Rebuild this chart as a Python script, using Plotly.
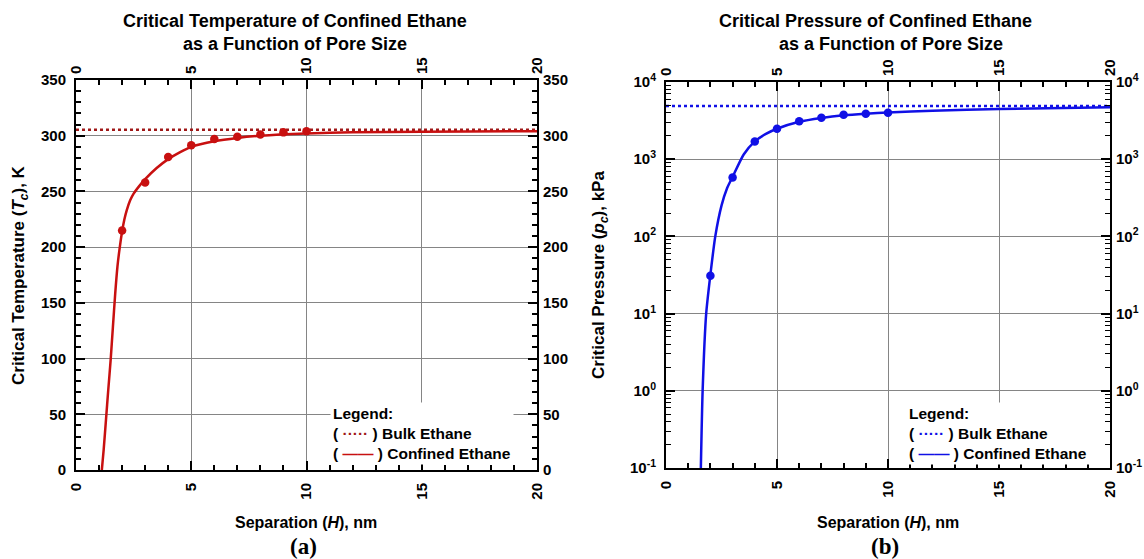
import plotly.graph_objects as go

W, H = 1144, 559

# ---------------- data ----------------
sep_points = [2, 3, 4, 5, 6, 7, 8, 9, 10]
tc_points = [215, 258, 281, 291.5, 297, 299, 301, 303, 304]
pc_points = [31, 580, 1700, 2480, 3110, 3440, 3760, 3870, 3990]

sep_fit_t = [1.12, 1.2, 1.3, 1.4, 1.5, 1.6, 1.7, 1.8, 1.9, 2.0, 2.1, 2.2, 2.35, 2.5, 2.75,
             3.0, 3.5, 4.0, 4.5, 5.0, 6.0, 7.0, 8.0, 10.0, 12.0, 15.0, 20.0]
tc_fit = [0, 18, 45, 72, 98, 128, 158, 183, 200, 214, 225, 233, 242, 248, 255,
          261, 271, 279, 285, 290, 295, 298, 300, 302, 303, 303.6, 304]

sep_fit_p = [1.57, 1.65, 1.81, 2.0, 2.22, 2.5, 2.75, 3.0, 3.5, 4.0, 4.5, 5.0, 6.0, 7.0,
             8.0, 9.0, 10.0, 12.0, 15.0, 20.0]
pc_fit = [0.1, 1, 10, 32, 100, 250, 420, 590, 1150, 1700, 2130, 2480, 3050, 3420,
          3700, 3880, 4020, 4250, 4480, 4700]

sep_bulk = [0, 20]
tc_bulk = [305.3, 305.3]
pc_bulk = [4872, 4872]

log_tickvals = [0.1, 1, 10, 100, 1000, 10000]
log_ticktext = ["10<sup>-1</sup>", "10<sup>0</sup>", "10<sup>1</sup>",
                "10<sup>2</sup>", "10<sup>3</sup>", "10<sup>4</sup>"]

RED = "#c81010"
DRED = "#a01818"
BLUE = "#1010e6"
FONT = "Liberation Sans"


def px_x(p):
    return p / W


def px_y(p):
    return 1 - p / H


fig = go.Figure()

# left panel
fig.add_trace(go.Scatter(x=sep_bulk, y=tc_bulk, mode="lines", xaxis="x", yaxis="y",
                         line=dict(color=DRED, width=2.5, dash="3px,3px"), hoverinfo="skip"))
fig.add_trace(go.Scatter(x=sep_fit_t, y=tc_fit, mode="lines", xaxis="x", yaxis="y",
                         line=dict(color=RED, width=2.5, shape="spline", smoothing=0.6)))
fig.add_trace(go.Scatter(x=sep_points, y=tc_points, mode="markers", xaxis="x", yaxis="y",
                         marker=dict(color=RED, size=8.5)))
fig.add_trace(go.Scatter(x=sep_points, y=tc_points, mode="markers", xaxis="x3", yaxis="y3",
                         marker=dict(opacity=0), hoverinfo="skip"))

# right panel
fig.add_trace(go.Scatter(x=sep_bulk, y=pc_bulk, mode="lines", xaxis="x2", yaxis="y2",
                         line=dict(color=BLUE, width=2.5, dash="3px,3px"), hoverinfo="skip"))
fig.add_trace(go.Scatter(x=sep_fit_p, y=pc_fit, mode="lines", xaxis="x2", yaxis="y2",
                         line=dict(color=BLUE, width=2.5, shape="spline", smoothing=0.6)))
fig.add_trace(go.Scatter(x=sep_points, y=pc_points, mode="markers", xaxis="x2", yaxis="y2",
                         marker=dict(color=BLUE, size=8.5)))
fig.add_trace(go.Scatter(x=sep_points, y=pc_points, mode="markers", xaxis="x4", yaxis="y4",
                         marker=dict(opacity=0), hoverinfo="skip"))

tickfont = dict(family=FONT, size=15, color="black", weight="bold")
GRID = "#858585"

xcommon = dict(range=[0, 20], tick0=0, dtick=5, ticks="inside", ticklen=9, tickwidth=1.5,
               tickcolor="black", tickangle=-90, tickfont=tickfont, zeroline=False,
               automargin=False, ticklabelstandoff=5,
               minor=dict(dtick=1, ticks="inside", ticklen=5, tickwidth=1.5, tickcolor="black",
                          showgrid=False),
               fixedrange=True)

LX = [px_x(76), px_x(537)]
RX = [px_x(666), px_x(1110)]
LY = [px_y(470), px_y(80)]
RY = [px_y(468), px_y(82)]

fig.update_layout(
    xaxis=dict(**xcommon, domain=LX, anchor="y", showgrid=True, gridcolor=GRID, gridwidth=1,
               showline=True, linewidth=2, linecolor="black", mirror=True),
    xaxis3=dict(**xcommon, overlaying="x", side="top", anchor="y", showgrid=False, showline=False),
    xaxis2=dict(**xcommon, domain=RX, anchor="y2", showgrid=True, gridcolor=GRID, gridwidth=1,
                showline=True, linewidth=2, linecolor="black", mirror=True),
    xaxis4=dict(**xcommon, overlaying="x2", side="top", anchor="y2", showgrid=False, showline=False),
)

ycommon_t = dict(range=[0, 350], tick0=0, dtick=50, ticks="inside", ticklen=9, tickwidth=1.5,
                 tickcolor="black", tickfont=tickfont, zeroline=False, automargin=False,
                 ticklabelstandoff=5,
                 minor=dict(dtick=10, ticks="inside", ticklen=5, tickwidth=1.5, tickcolor="black",
                            showgrid=False),
                 fixedrange=True)
ycommon_p = dict(type="log", range=[-1, 4], tickvals=log_tickvals, ticktext=log_ticktext,
                 ticks="inside", ticklen=9, tickwidth=1.5, tickcolor="black", tickfont=tickfont,
                 zeroline=False, automargin=False, ticklabelstandoff=5,
                 minor=dict(dtick="D1", ticks="inside", ticklen=5, tickwidth=1.2, tickcolor="black",
                            showgrid=False),
                 fixedrange=True)

fig.update_layout(
    yaxis=dict(**ycommon_t, domain=LY, anchor="x", showgrid=True, gridcolor=GRID, gridwidth=1,
               showline=True, linewidth=2, linecolor="black", mirror=True),
    yaxis3=dict(**ycommon_t, overlaying="y", side="right", anchor="x", showgrid=False, showline=False),
    yaxis2=dict(**ycommon_p, domain=RY, anchor="x2", showgrid=True, gridcolor=GRID, gridwidth=1,
                showline=True, linewidth=2, linecolor="black", mirror=True),
    yaxis4=dict(**ycommon_p, overlaying="y2", side="right", anchor="x2", showgrid=False, showline=False),
)

titlefont = dict(family=FONT, size=18, color="black", weight="bold")
xlabfont = dict(family=FONT, size=16, color="black", weight="bold")
ylabfont = dict(family=FONT, size=17, color="black", weight="bold")
legfont = dict(family=FONT, size=15.5, color="black", weight="bold")
subfont = dict(family="Liberation Serif", size=23, color="black", weight="bold")

ann = []


def add_text(text, x, y, font, xanchor="center", yanchor="middle", angle=0, align="center",
             bgcolor=None):
    d = dict(text=text, x=px_x(x), y=px_y(y), xref="paper", yref="paper", showarrow=False,
             font=font, xanchor=xanchor, yanchor=yanchor, textangle=angle, align=align)
    if bgcolor:
        d.update(bgcolor=bgcolor, borderpad=2)
    ann.append(d)


add_text("Critical Temperature of Confined Ethane", 295, 21, titlefont)
add_text("as a Function of Pore Size", 295, 44, titlefont)
add_text("Critical Pressure of Confined Ethane", 875, 21, titlefont)
add_text("as a Function of Pore Size", 891, 44, titlefont)

add_text("Separation (<i>H</i>), nm", 306, 522, xlabfont)
add_text("Separation (<i>H</i>), nm", 888, 522, xlabfont)
add_text("Critical Temperature (<i>T<sub>c</sub></i>), K", 20, 275, ylabfont, angle=-90)
add_text("Critical Pressure (<i>p<sub>c</sub></i>), kPa", 600, 275, ylabfont, angle=-90)

add_text("(a)", 303, 546, subfont)
add_text("(b)", 885, 546, subfont)

add_text("Legend:<br>( <span style='color:%s'>·····</span> ) Bulk Ethane<br>"
         "( <span style='color:%s'>——</span> ) Confined Ethane" % (DRED, RED),
         330, 402, legfont, xanchor="left", yanchor="top", align="left", bgcolor="white")
add_text("Legend:<br>( <span style='color:%s'>·····</span> ) Bulk Ethane<br>"
         "( <span style='color:%s'>——</span> ) Confined Ethane" % (BLUE, BLUE),
         906, 402, legfont, xanchor="left", yanchor="top", align="left", bgcolor="white")

fig.update_layout(
    annotations=ann,
    width=W, height=H,
    margin=dict(l=0, r=0, t=0, b=0),
    paper_bgcolor="white", plot_bgcolor="white",
    showlegend=False,
    font=dict(family=FONT, color="black"),
)

fig.write_html("out.html", config={"displayModeBar": False})
